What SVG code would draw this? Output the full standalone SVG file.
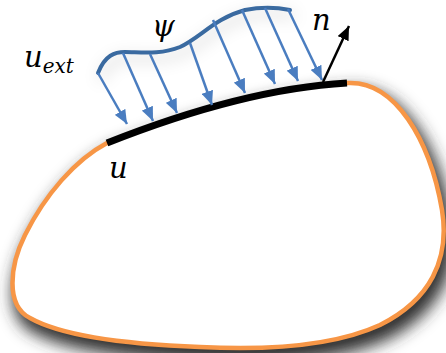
<svg xmlns="http://www.w3.org/2000/svg" width="446" height="353" viewBox="0 0 446 353">
<style>
.lbl{font-family:"DejaVu Serif","Liberation Serif",serif;font-style:italic;fill:#000}
.load{stroke:#4a7dc0;stroke-width:2.5;fill:none}
</style>
<defs>
<path id="blob" d="M107,143 C170,118 260,88 347,83 C395,80 430,140 442,210 C450,260 430,300 380,325 C330,348 260,350 200,347 C120,344 60,335 30,318 C5,305 10,265 25,235 C45,195 75,160 107,143 Z"/>
<filter id="blur" filterUnits="userSpaceOnUse" x="-60" y="0" width="580" height="440">
<feGaussianBlur stdDeviation="8"/>
</filter>
<filter id="sh2" filterUnits="userSpaceOnUse" x="50" y="-30" width="340" height="200" color-interpolation-filters="sRGB">
<feDropShadow dx="3" dy="6" stdDeviation="8" flood-color="#000" flood-opacity="0.22"/>
</filter>
<marker id="ab" viewBox="0 0 14 12" refX="14" refY="6" markerWidth="14" markerHeight="12" markerUnits="userSpaceOnUse" orient="auto"><path d="M0,0 L14,6 L0,12 z" fill="#4a7dc0"/></marker>
<marker id="ak" viewBox="0 0 14 12" refX="14" refY="6" markerWidth="14" markerHeight="12" markerUnits="userSpaceOnUse" orient="auto"><path d="M0,0 L14,6 L0,12 z" fill="#000"/></marker>
</defs>
<rect width="446" height="353" fill="#fff"/>
<g id="body">
<use href="#blob" transform="translate(5,10)" fill="#333" stroke="#333" stroke-width="10" filter="url(#blur)"/>
<use href="#blob" fill="#fff" stroke="#f79646" stroke-width="4.5"/>
</g>
<g id="boundary">
<path d="M107,143 C170,118 260,88 347,83" fill="none" stroke="#000" stroke-width="7"/>
</g>
<g id="load" filter="url(#sh2)">
<path d="M98,73 C105,55 115,52 125,52 C140,52 160,55 180,47 C200,38 215,18 245,10 C265,6 280,8 290,10" fill="none" stroke="#3a6aa0" stroke-width="4" stroke-linecap="round"/>
</g>
<g id="connectors">
<line class="load" x1="98" y1="73" x2="127" y2="124" marker-end="url(#ab)"/>
<line class="load" x1="123" y1="53" x2="153" y2="121" marker-end="url(#ab)"/>
<line class="load" x1="150" y1="54" x2="177" y2="113" marker-end="url(#ab)"/>
<line class="load" x1="190" y1="43" x2="212" y2="105" marker-end="url(#ab)"/>
<line class="load" x1="213" y1="20" x2="245" y2="93" marker-end="url(#ab)"/>
<line class="load" x1="242" y1="10" x2="275" y2="84" marker-end="url(#ab)"/>
<line class="load" x1="265" y1="8" x2="298" y2="81" marker-end="url(#ab)"/>
<line class="load" x1="288" y1="9" x2="322" y2="80" marker-end="url(#ab)"/>
<line id="normal" x1="323" y1="82" x2="349" y2="26" stroke="#000" stroke-width="2.5" marker-end="url(#ak)"/>
</g>
<g id="labels">
<text class="lbl" x="24" y="67" font-size="29">u<tspan font-size="20" dy="6">ext</tspan></text>
<text class="lbl" x="152" y="36" font-size="29">ψ</text>
<text class="lbl" x="109" y="178" font-size="29">u</text>
<text class="lbl" x="312" y="30" font-size="29">n</text>
</g>
</svg>
